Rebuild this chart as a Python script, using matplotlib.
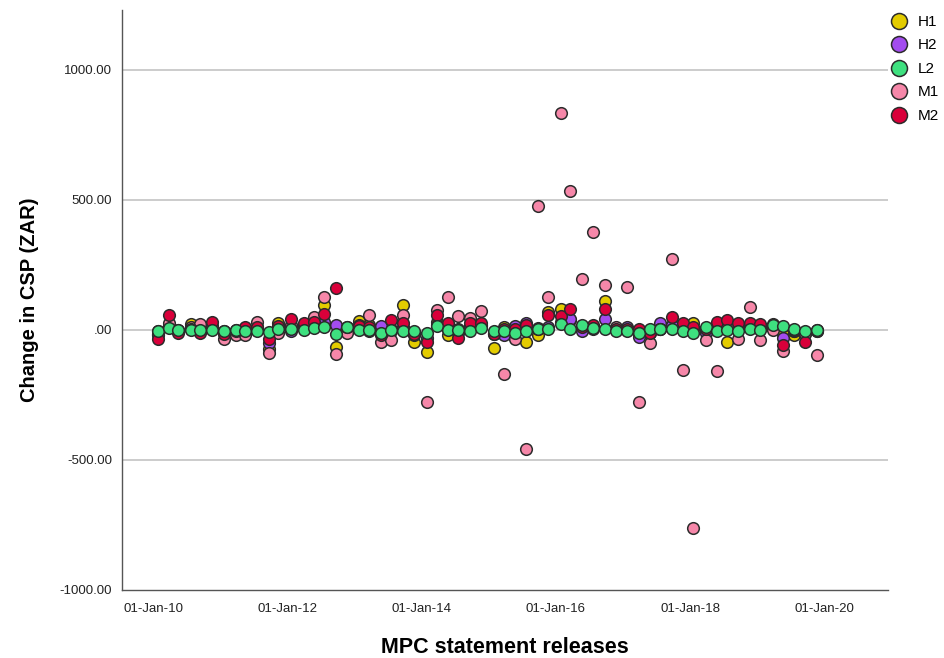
import matplotlib
matplotlib.use("Agg")
import matplotlib.pyplot as plt
import matplotlib.dates as mdates
from matplotlib.lines import Line2D
import pandas as pd

# MPC statement release dates, 2010-2019
release_dates = [
    "2010-01-28", "2010-03-25", "2010-05-13", "2010-07-22", "2010-09-09", "2010-11-18",
    "2011-01-20", "2011-03-24", "2011-05-12", "2011-07-21", "2011-09-22", "2011-11-10",
    "2012-01-19", "2012-03-29", "2012-05-24", "2012-07-19", "2012-09-20", "2012-11-22",
    "2013-01-24", "2013-03-20", "2013-05-23", "2013-07-18", "2013-09-19", "2013-11-21",
    "2014-01-29", "2014-03-27", "2014-05-22", "2014-07-17", "2014-09-18", "2014-11-20",
    "2015-01-29", "2015-03-26", "2015-05-21", "2015-07-23", "2015-09-23", "2015-11-19",
    "2016-01-28", "2016-03-17", "2016-05-19", "2016-07-21", "2016-09-22", "2016-11-24",
    "2017-01-24", "2017-03-30", "2017-05-25", "2017-07-20", "2017-09-21", "2017-11-23",
    "2018-01-18", "2018-03-28", "2018-05-24", "2018-07-19", "2018-09-20", "2018-11-22",
    "2019-01-17", "2019-03-28", "2019-05-23", "2019-07-18", "2019-09-19", "2019-11-21",
]

# change in CSP (ZAR) per group
h1 = [-5, 20, 0, 23, 5, 10, -10, -5, 5, 10, -74, 28, 15, 10, 20,
      96, -64, 5, 34, 19, -10, 5, 96, -45, -85, 30, -19, -10, 20, 15,
      -70, 13, -5, -45, -19, 67, 80, 40, 10, 10, 111, 5, 0, -20, -10,
      10, 10, 15, 26, -5, 5, -45, 10, 15, 10, 15, -15, -19, -10, -5]
h2 = [-15, 15, -5, 5, 0, 5, -5, 0, -5, 5, -50, 10, -5, 8, 10,
      30, 19, 8, 10, -5, 15, -5, 10, -10, -30, 20, 5, 5, 15, 20,
      -10, -19, 15, 28, 5, 10, 30, 42, -5, 5, 42, 0, 12, -26, 0,
      26, 18, 0, 5, -13, 10, 10, 5, 10, 5, 10, -32, -5, -10, 0]
l2 = [-6, 6, 0, 0, 0, 0, -3, 0, -3, -3, -9, 3, 3, 0, 6,
      13, -17, 13, 0, 0, -10, -2, -6, -4, -13, 14, 0, -1, -3, 9,
      -5, -3, -12, -6, 3, 3, 24, 2, 18, 6, 3, -6, -5, -13, 5,
      3, 2, -5, -12, 10, -5, 0, -3, 2, 0, 19, 15, 5, -3, 0]
m1 = [-20, 28, -5, 10, 22, 15, -36, -19, -19, 32, -90, -10, 20, 15, 49,
      126, -92, -12, 20, 58, -48, -40, 58, -20, -276, 75, 126, 52, 45, 73,
      -15, -170, -36, -459, 477, 125, 833, 536, 196, 378, 173, 10, 165, -277, -49,
      5, 273, -154, -762, -38, -158, 15, -34, 90, -38, 0, -83, -5, -15, -96]
m2 = [-36, 58, -10, 5, -13, 29, -15, -5, 13, 10, -36, 15, 41, 28, 30,
      62, 160, 10, 15, 10, -20, 37, 28, -15, -47, 58, 26, -30, 28, 25,
      -15, 5, 5, 19, 8, 58, 55, 82, 10, 20, 81, 5, 5, 5, -13,
      5, 49, 28, 10, 5, 32, 38, 26, 28, 24, 22, -58, 0, -45, -5]

group_names = ["H1", "H2", "L2", "M1", "M2"]
group_colors = {"H1": "#E3CC00", "H2": "#A34CEF", "L2": "#3EE07F",
                "M1": "#F687A9", "M2": "#D9003A"}
group_values = {"H1": h1, "H2": h2, "L2": l2, "M1": m1, "M2": m2}

dates = pd.to_datetime(release_dates)

plt.rcParams["font.family"] = ["Liberation Sans", "DejaVu Sans"]

fig = plt.figure(figsize=(9.45, 6.58), dpi=100)
ax = fig.add_axes([122 / 945, 1 - 590 / 658, (888 - 122) / 945, 580 / 658])

# gridlines behind the points
for yv in [1000, 500, 0, -500]:
    ax.axhline(yv, color="#c8c8c8", lw=1.3, zorder=0)

# green drawn last so it sits on top
for name in ["H1", "H2", "M1", "M2", "L2"]:
    ax.scatter(dates, group_values[name], s=70, color=group_colors[name],
               edgecolors="#2b2b2b", linewidths=1.1, zorder=3)

ax.set_ylim(-1000, 1230)
ax.set_xlim(pd.Timestamp("2009-07-14"), pd.Timestamp("2020-12-12"))
ax.set_yticks([-1000, -500, 0, 500, 1000])
ax.set_yticklabels(["-1000.00", "-500.00", ".00", "500.00", "1000.00"])
ax.xaxis.set_major_locator(mdates.YearLocator(2))
ax.xaxis.set_major_formatter(mdates.DateFormatter("%d-%b-%y"))
ax.tick_params(axis="both", length=0, labelsize=9.5, colors="#222222")
ax.tick_params(axis="x", pad=9)
ax.tick_params(axis="y", pad=7)

for side in ["top", "right"]:
    ax.spines[side].set_visible(False)
for side in ["left", "bottom"]:
    ax.spines[side].set_color("#555555")
    ax.spines[side].set_linewidth(1.0)

ax.set_xlabel("MPC statement releases", fontsize=15.5, fontweight="bold", labelpad=16)
ax.set_ylabel("Change in CSP (ZAR)", fontsize=14.5, fontweight="bold", labelpad=15)

handles = [Line2D([], [], ls="none", marker="o", markersize=11.5,
                  markerfacecolor=group_colors[n], markeredgecolor="#2b2b2b",
                  markeredgewidth=1.1) for n in group_names]
fig.legend(handles, group_names, loc="upper left",
           bbox_to_anchor=(891 / 945, 1 - 15 / 658), frameon=False,
           fontsize=11, handlelength=1.0, handletextpad=0.72,
           labelspacing=0.62, borderpad=0, borderaxespad=0)

fig.savefig("out.png", dpi=100)
